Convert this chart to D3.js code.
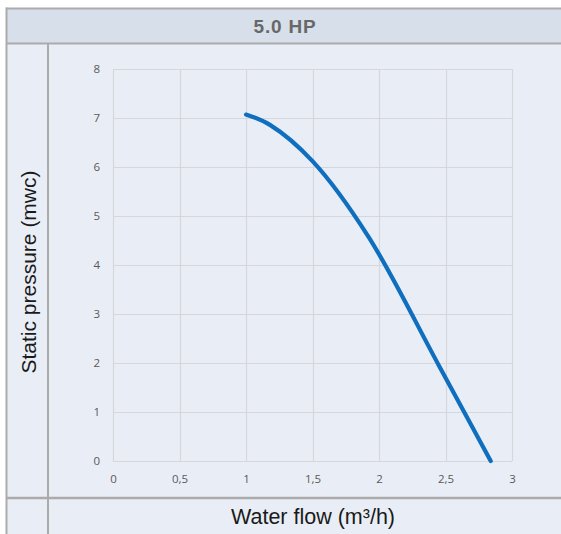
<!DOCTYPE html>
<html><head><meta charset="utf-8">
<script src="https://cdn.jsdelivr.net/npm/d3@7"></script>
<style>
html,body{margin:0;padding:0;background:#fff;}
svg{display:block;}
</style></head>
<body>
<script>
const title = "5.0 HP";
const xTitle = "Water flow (m³/h)";
const yTitle = "Static pressure (mwc)";
const xTicks = [0, 0.5, 1, 1.5, 2, 2.5, 3];
const xTickLabels = ["0", "0,5", "1", "1,5", "2", "2,5", "3"];
const yTicks = [0, 1, 2, 3, 4, 5, 6, 7, 8];
const flow = [1.00, 1.18, 1.50, 1.92, 2.45, 2.84];
const pressure = [7.07, 6.86, 6.12, 4.58, 1.95, 0.0];

const W = 561, H = 534;
const svg = d3.select("body").append("svg").attr("width", W).attr("height", H);

// table background
svg.append("rect").attr("x", 7).attr("y", 9).attr("width", W - 7).attr("height", 35).attr("fill", "#d6dfea");
svg.append("rect").attr("x", 7).attr("y", 44).attr("width", W - 7).attr("height", H - 44).attr("fill", "#e9eef6");
const border = "#ababab";
svg.append("line").attr("x1", 6).attr("x2", W).attr("y1", 8.5).attr("y2", 8.5).attr("stroke", border).attr("stroke-width", 2);
svg.append("line").attr("x1", 6).attr("x2", W).attr("y1", 43.5).attr("y2", 43.5).attr("stroke", border).attr("stroke-width", 2);
svg.append("line").attr("x1", 6).attr("x2", W).attr("y1", 498).attr("y2", 498).attr("stroke", border).attr("stroke-width", 2.5);
svg.append("line").attr("x1", 6.5).attr("x2", 6.5).attr("y1", 7.5).attr("y2", H).attr("stroke", border).attr("stroke-width", 2);
svg.append("line").attr("x1", 48).attr("x2", 48).attr("y1", 44).attr("y2", H).attr("stroke", border).attr("stroke-width", 2);

svg.append("text").attr("x", 285).attr("y", 33).attr("text-anchor", "middle")
  .attr("font-family", "Liberation Sans, Arial, sans-serif").attr("font-weight", "bold")
  .attr("font-size", 19).attr("letter-spacing", 0.8).attr("fill", "#686868").text(title);

const x = d3.scaleLinear().domain([0, 3]).range([113, 512]);
const y = d3.scaleLinear().domain([0, 8]).range([461, 69]);

// gridlines
const grid = svg.append("g");
grid.selectAll("line.v").data(xTicks).join("line")
  .attr("x1", d => Math.round(x(d)) + 0.5).attr("x2", d => Math.round(x(d)) + 0.5)
  .attr("y1", y(8)).attr("y2", y(0)).attr("stroke", "#d5d7da").attr("stroke-width", 1.2);
grid.selectAll("line.h").data(yTicks).join("line")
  .attr("y1", d => Math.round(y(d)) + 0.5).attr("y2", d => Math.round(y(d)) + 0.5)
  .attr("x1", x(0)).attr("x2", x(3)).attr("stroke", "#d5d7da").attr("stroke-width", 1.2);

// axes (labels only)
const xAxis = svg.append("g").attr("transform", `translate(0,${y(0)})`)
  .call(d3.axisBottom(x).tickValues(xTicks).tickSize(0).tickPadding(14)
    .tickFormat((d, i) => xTickLabels[i]));
const yAxis = svg.append("g").attr("transform", `translate(${x(0)},0)`)
  .call(d3.axisLeft(y).tickValues(yTicks).tickSize(0).tickPadding(13));
[xAxis, yAxis].forEach(a => {
  a.select(".domain").remove();
  a.selectAll("text").attr("font-family", "Open Sans, DejaVu Sans, sans-serif")
    .attr("font-size", 11.5).attr("fill", "#595959");
});

// curve
const pts = flow.map((f, i) => [f, pressure[i]]);
svg.append("path").datum(pts)
  .attr("d", d3.line().x(d => x(d[0])).y(d => y(d[1])).curve(d3.curveCatmullRom.alpha(0.5)))
  .attr("fill", "none").attr("stroke", "#0f6ebe").attr("stroke-width", 4.2)
  .attr("stroke-linecap", "round").attr("stroke-linejoin", "round");

// axis titles
svg.append("text").attr("transform", "translate(36,272) rotate(-90)").attr("text-anchor", "middle")
  .attr("font-family", "Liberation Sans, Arial, sans-serif").attr("font-size", 21)
  .attr("fill", "#1a1a1a").text(yTitle);
svg.append("text").attr("x", 313).attr("y", 524).attr("text-anchor", "middle")
  .attr("font-family", "Liberation Sans, Arial, sans-serif").attr("font-size", 21.5)
  .attr("fill", "#1a1a1a").text(xTitle);
</script>
</body></html>
